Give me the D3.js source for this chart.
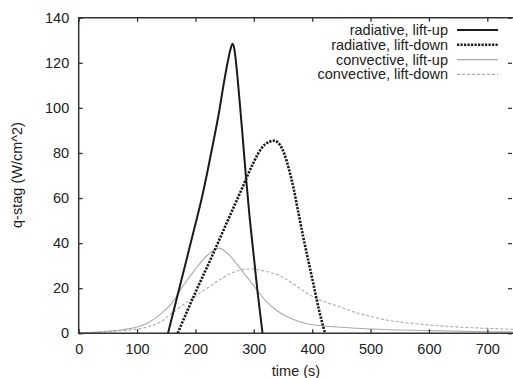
<!DOCTYPE html>
<html><head><meta charset="utf-8">
<script src="https://cdn.jsdelivr.net/npm/d3@7"></script>
<style>body{margin:0;background:#fff}svg{display:block}</style>
</head><body>
<svg id="c" width="513" height="378"></svg>
<script>
const xTicks = [0,100,200,300,400,500,600,700];
const yTicks = [0,20,40,60,80,100,120,140];
const seriesNames = ["radiative, lift-up","radiative, lift-down","convective, lift-up","convective, lift-down"];
const radUp = [[153,0],[170,17.5],[186,34],[200,48.5],[210,59],[220,71],[230,84],[240,97.5],[248,110],[255,120],[260,126],[263.5,128.4],[267,125.5],[270,119],[275,105],[280,90],[286.5,69.4],[293,51],[300,34],[307,17],[315,0]];
const radDown = [[169.5,0],[198,17],[228,34],[257,51],[281,65],[290,70.5],[300,76],[307.5,79.8],[320,84],[335,85.4],[345,83.5],[352,79.8],[360,73],[367.5,65],[376,54],[384.6,42.8],[394,31.5],[403,20.7],[412,10],[422,0]];
const convUp = [[0,0.2],[25,0.4],[50,0.9],[75,1.6],[100,2.8],[120,4.8],[140,8.5],[160,13.5],[180,21.5],[200,28.5],[220,34.5],[240,37.8],[255,35.5],[270,31],[285,26],[300,21],[320,14.5],[340,10],[360,7],[380,5],[400,3.8],[450,2.7],[500,1.9],[600,1.2],[700,0.7],[744,0.6]];
const convDown = [[0,0.1],[50,0.7],[100,1.9],[120,2.9],[140,5],[160,9],[180,12.8],[200,16.5],[220,20],[240,23.5],[260,26.5],[280,28.2],[295,28.5],[320,27.5],[345,25.5],[370,21.5],[390,18],[413,14.8],[447,11.8],[470,9.6],[500,7.5],[527,5.9],[584,4.1],[641,2.9],[699,2.2],[744,1.8]];

const svg = d3.select("#c");
const L = 78.7, R = 513, T = 17.7, B = 333.3;
const x = d3.scaleLinear().domain([0,744]).range([L,R]);
const y = d3.scaleLinear().domain([0,140]).range([B,T]);
const font = "'Liberation Sans', Arial, Helvetica, sans-serif";
const fs = 14.5;
const txt = "#222";

const styles = [
  {stroke:"#1a1a1a", w:2, dash:null},
  {stroke:"#1a1a1a", w:2.6, dash:"2.2,1.3"},
  {stroke:"#aaaaaa", w:1.1, dash:null},
  {stroke:"#aaaaaa", w:1.1, dash:"3,2"}
];
const data = [radUp, radDown, convUp, convDown];

const defs = svg.append("defs");
defs.append("clipPath").attr("id","clip").append("rect").attr("x",L).attr("y",T).attr("width",R-L).attr("height",B-T);

const line = d3.line().x(d=>x(d[0])).y(d=>y(d[1])).curve(d3.curveMonotoneX);
const g = svg.append("g").attr("clip-path","url(#clip)");
[3,2,1,0].forEach(i=>{
  g.append("path").attr("d",line(data[i])).attr("fill","none")
   .attr("stroke",styles[i].stroke).attr("stroke-width",styles[i].w)
   .attr("stroke-dasharray",styles[i].dash).attr("stroke-linejoin","round");
});

const frame = "#333";
svg.append("path").attr("d",`M${R+1},${T}H${L}V${B}H${R+1}`).attr("fill","none").attr("stroke",frame).attr("stroke-width",1.5);

const xb = svg.append("g").attr("transform",`translate(0,${B})`)
  .call(d3.axisBottom(x).tickValues(xTicks).tickSize(-4).tickPadding(10).tickFormat(d3.format("d")));
const xt = svg.append("g").attr("transform",`translate(0,${T})`)
  .call(d3.axisTop(x).tickValues(xTicks).tickSize(-4).tickFormat(""));
const yl = svg.append("g").attr("transform",`translate(${L},0)`)
  .call(d3.axisLeft(y).tickValues(yTicks).tickSize(-4).tickPadding(10).tickFormat(d3.format("d")));
const yr = svg.append("g").attr("transform",`translate(${R-1},0)`)
  .call(d3.axisRight(y).tickValues(yTicks).tickSize(-4).tickFormat(""));
[xb,xt,yl,yr].forEach(a=>{
  a.select(".domain").remove();
  a.selectAll(".tick line").attr("stroke",frame).attr("stroke-width",1.3);
  a.selectAll(".tick text").attr("font-family",font).attr("font-size",fs).attr("fill",txt);
});
xb.selectAll(".tick text").attr("dy","0.71em");
yl.selectAll(".tick text").attr("dx","0.5");

svg.append("text").attr("x",296).attr("y",375.5).attr("text-anchor","middle")
  .attr("font-family",font).attr("font-size",fs).attr("fill",txt).text("time (s)");
svg.append("text").attr("transform",`translate(22,175) rotate(-90)`).attr("text-anchor","middle")
  .attr("font-family",font).attr("font-size",fs).attr("fill",txt).text("q-stag (W/cm^2)");

const legY = [30,44.8,59.6,74.4];
seriesNames.forEach((n,i)=>{
  svg.append("text").attr("x",448).attr("y",legY[i]+5).attr("text-anchor","end")
    .attr("font-family",font).attr("font-size",fs).attr("fill",txt).text(n);
  svg.append("line").attr("x1",457).attr("x2",498).attr("y1",legY[i]).attr("y2",legY[i])
    .attr("stroke",styles[i].stroke).attr("stroke-width",styles[i].w).attr("stroke-dasharray",styles[i].dash);
});
</script>
</body></html>
